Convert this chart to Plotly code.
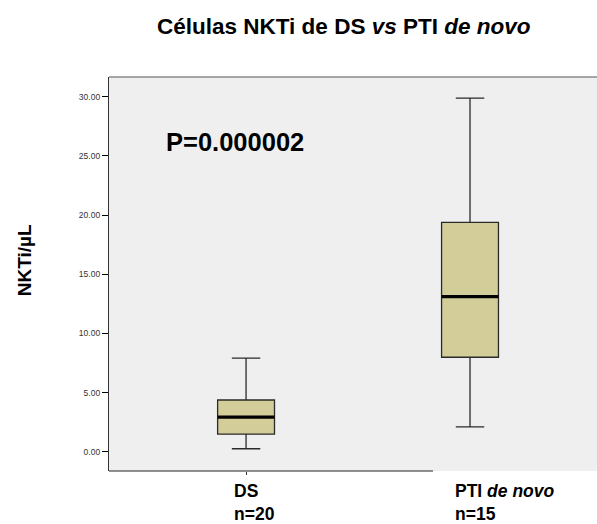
import plotly.graph_objects as go

# Summary statistics of NKTi cells per µL for each group
groups = ["DS", "PTI <i>de novo</i>"]
group_n = [20, 15]
positions = [0, 1]
lower_whisker = [0.25, 2.10]
q1 = [1.48, 7.98]
median = [2.92, 13.10]
q3 = [4.37, 19.37]
upper_whisker = [7.90, 29.87]
p_value_text = "P=0.000002"

y_ticks = [0, 5, 10, 15, 20, 25, 30]

box_fill = "#d3ce99"
box_width = 0.254
label_offsets = [-14, -17]

W, H = 597, 524
M_L, M_R, M_T, M_B = 109, 0, 77, 53

fig = go.Figure()

fig.add_trace(go.Box(
    x=positions,
    q1=q1,
    median=median,
    q3=q3,
    lowerfence=lower_whisker,
    upperfence=upper_whisker,
    fillcolor=box_fill,
    line=dict(color="#2a2a2a", width=1.3),
    width=box_width,
    whiskerwidth=0.5,
    boxpoints=False,
    hoverinfo="skip",
    showlegend=False,
))

# Heavier median bars drawn over each box
med_x, med_y = [], []
for p, m in zip(positions, median):
    med_x += [p - box_width / 2, p + box_width / 2, None]
    med_y += [m, m, None]
fig.add_trace(go.Scatter(
    x=med_x, y=med_y, mode="lines",
    line=dict(color="black", width=3.2),
    hoverinfo="skip", showlegend=False,
))

annotations = []
# Category labels with group sizes, left aligned under each box
for p, g, n, off in zip(positions, groups, group_n, label_offsets):
    annotations.append(dict(
        x=p, xref="x", xshift=off, xanchor="left",
        y=0, yref="paper", yshift=-8, yanchor="top",
        text=f"<b>{g}<br>n={n}</b>", align="left", showarrow=False,
        font=dict(family="Liberation Sans, Arial", size=17.5, color="black"),
    ))

annotations.append(dict(
    x=-0.365, xref="x", xanchor="left",
    y=26.2, yref="y", yanchor="middle",
    text=f"<b>{p_value_text}</b>", showarrow=False,
    font=dict(family="Liberation Sans, Arial", size=25.5, color="black"),
))

annotations.append(dict(
    x=0, xref="paper", xshift=-85, xanchor="center",
    y=0.535, yref="paper", yanchor="middle",
    text="<b>NKTi/µL</b>", textangle=-90, showarrow=False,
    font=dict(family="Liberation Sans, Arial", size=19, color="black"),
))

# Chart title, centred at x = 344 px of the page
title_x = (344 - M_L) / (W - M_L - M_R)
annotations.append(dict(
    x=title_x, xref="paper", xanchor="center",
    y=1, yref="paper", yshift=51, yanchor="middle",
    text="<b>Células NKTi de DS <i>vs</i> PTI <i>de novo</i></b>", showarrow=False,
    font=dict(family="Liberation Sans, Arial", size=22.5, color="black"),
))

shapes = [
    # top frame line
    dict(type="line", xref="paper", yref="paper", x0=0, x1=1, y0=1, y1=1,
         line=dict(color="#8a8a8a", width=1.5)),
    # bottom axis line
    dict(type="line", xref="paper", yref="paper", x0=0, x1=0.664, y0=0, y1=0,
         line=dict(color="#6a6a6a", width=1.5)),
]

fig.update_layout(
    width=W, height=H,
    margin=dict(l=M_L, r=M_R, t=M_T, b=M_B),
    paper_bgcolor="white",
    plot_bgcolor="#efefef",
    showlegend=False,
    annotations=annotations,
    shapes=shapes,
    xaxis=dict(
        range=[-0.612, 1.567], showgrid=False, zeroline=False,
        tickvals=[positions[0]], showticklabels=False,
        ticks="outside", ticklen=3, tickcolor="#333333", tickwidth=1,
        showline=False, fixedrange=True,
    ),
    yaxis=dict(
        range=[-1.63, 31.66], tickvals=y_ticks, tickformat=".2f",
        ticks="outside", ticklen=6, tickcolor="black", tickwidth=1.2,
        tickfont=dict(family="Liberation Sans, Arial", size=8.5, color="#333333"),
        showgrid=False, zeroline=False,
        showline=True, linecolor="#333333", linewidth=1.3,
    ),
)

fig.write_html("out.html")
